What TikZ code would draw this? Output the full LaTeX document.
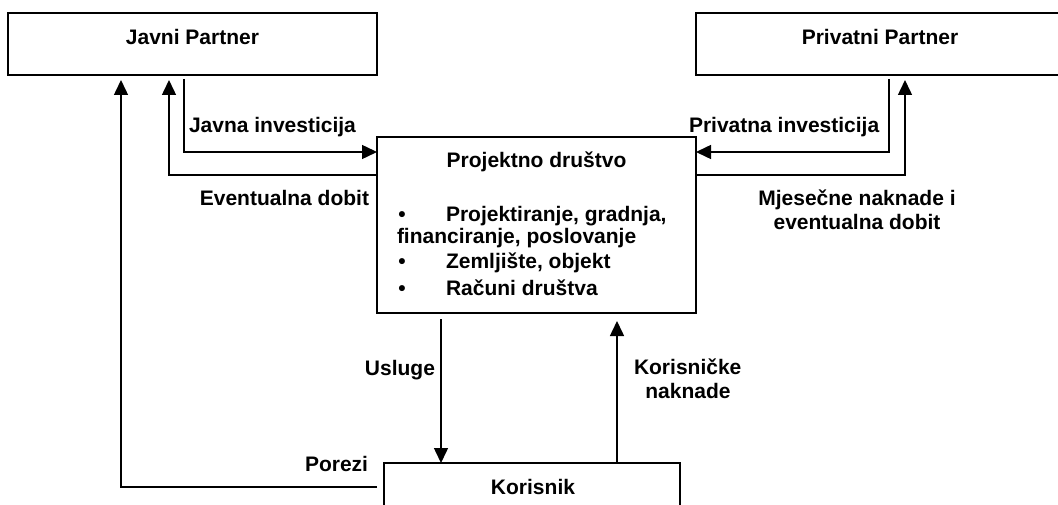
\documentclass[tikz,border=0pt]{standalone}
\usepackage{fontspec}
\setmainfont{Liberation Sans}
\usetikzlibrary{arrows.meta}
\begin{document}
\begin{tikzpicture}[x=1pt,y=-1pt,
  box/.style={draw,line width=1.5pt,rectangle,inner sep=0pt,outer sep=0pt},
  lbl/.style={inner sep=0pt,outer sep=0pt,font=\fontsize{21}{24}\selectfont\bfseries},
  arr/.style={line width=1.5pt,-{Triangle[length=15pt,width=14pt]}},
]
\useasboundingbox (0,0) rectangle (1058,505);
\clip (0,0) rectangle (1058,505);

% boxes
\node[box,minimum width=369pt,minimum height=62pt] (jp) at (192.5,44) {};
\node[box,minimum width=368pt,minimum height=62pt] (pp) at (880,44) {};
\node[box,minimum width=319pt,minimum height=176pt] (pd) at (536.5,225) {};
\node[box,minimum width=296pt,minimum height=60pt] (ko) at (532,493) {};

% box texts
\node[lbl,anchor=base] (tjp) at (192.5,45) {Javni Partner};
\node[lbl,anchor=base] (tpp) at (880,45) {Privatni Partner};
\node[lbl,anchor=base] (tpd) at (536.5,168) {Projektno društvo};
\node[lbl,anchor=base] (b1) at (402,222) {•};
\node[lbl,anchor=base west] (l1) at (446,222) {Projektiranje, gradnja,};
\node[lbl,anchor=base west] (l2) at (397,244) {financiranje, poslovanje};
\node[lbl,anchor=base] (b2) at (402,269) {•};
\node[lbl,anchor=base west] (l3) at (446,269) {Zemljište, objekt};
\node[lbl,anchor=base] (b3) at (402,295) {•};
\node[lbl,anchor=base west] (l4) at (446,295) {Računi društva};
\node[lbl,anchor=base] (tko) at (533,494) {Korisnik};

% flow labels
\node[lbl,anchor=base west] (ljav) at (189,133) {Javna investicija};
\node[lbl,anchor=base west] (lpriv) at (689,133) {Privatna investicija};
\node[lbl,anchor=base east] (lev) at (369,206) {Eventualna dobit};
\node[lbl,anchor=base] (lmj1) at (857,206) {Mjesečne naknade i};
\node[lbl,anchor=base] (lmj2) at (857,230) {eventualna dobit};
\node[lbl,anchor=base east] (lus) at (435,375) {Usluge};
\node[lbl,anchor=base west] (lkn1) at (634,374) {Korisničke};
\node[lbl,anchor=base] (lkn2) at (688,398) {naknade};
\node[lbl,anchor=base west] (lpor) at (305,471) {Porezi};

% connectors
\draw[arr] ([xshift=176pt,yshift=-4pt]jp.south west) |- ([yshift=-15pt]pd.north west);
\draw[arr] ([yshift=-38pt]pd.north west) -| ([xshift=161pt,yshift=-5pt]jp.south west);
\draw[arr] ([xshift=-7pt,yshift=-24pt]ko.north west) -| ([xshift=113pt,yshift=-5pt]jp.south west);
\draw[arr] ([xshift=193pt,yshift=-4pt]pp.south west) |- ([yshift=-15pt]pd.north east);
\draw[arr] ([yshift=-38pt]pd.north east) -| ([xshift=209pt,yshift=-5pt]pp.south west);
\draw[arr] ([xshift=64pt,yshift=-6pt]pd.south west) -- ([xshift=57pt]ko.north west);
\draw[arr] ([xshift=233pt]ko.north west) -- ([xshift=240pt,yshift=-8pt]pd.south west);
\end{tikzpicture}
\end{document}
